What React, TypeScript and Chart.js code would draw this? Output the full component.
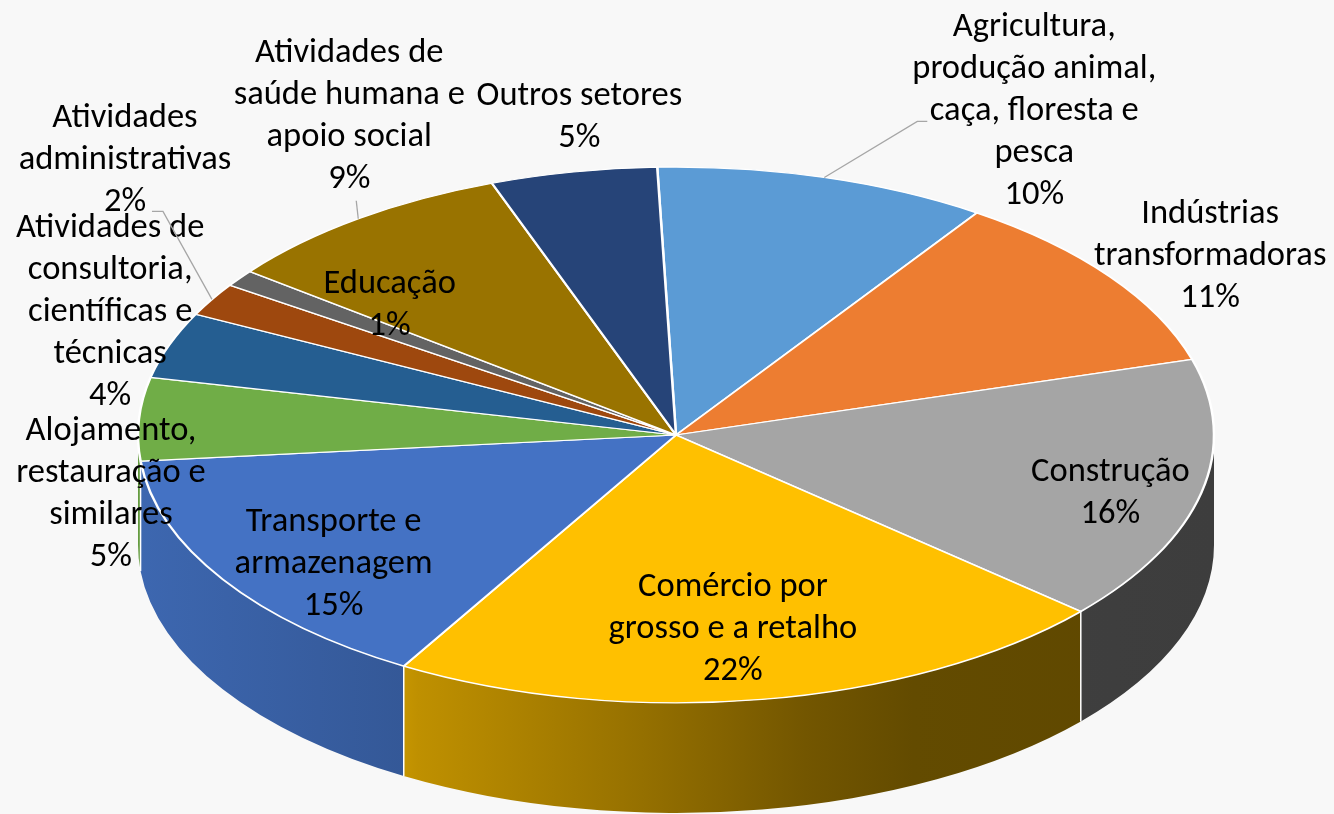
import React, { useEffect, useRef } from "react";
import { Chart, registerables } from "chart.js";

Chart.register(...registerables);

// ---- data ----
const categories: string[][] = [
  ["Agricultura,", "produção animal,", "caça, floresta e", "pesca"],
  ["Indústrias", "transformadoras"],
  ["Construção"],
  ["Comércio por", "grosso e a retalho"],
  ["Transporte e", "armazenagem"],
  ["Alojamento,", "restauração e", "similares"],
  ["Atividades de", "consultoria,", "científicas e", "técnicas"],
  ["Atividades", "administrativas"],
  ["Educação"],
  ["Atividades de", "saúde humana e", "apoio social"],
  ["Outros setores"],
];
const shares: number[] = [10, 11, 16, 22, 15, 5, 4, 2, 1, 9, 5];
const sliceColors: string[] = [
  "#5B9BD5", "#ED7D31", "#A5A5A5", "#FFC000", "#4472C4", "#70AD47",
  "#255E91", "#9E480E", "#636363", "#997300", "#264478",
];

// ---- layout / style (not data) ----
const TILT = 0.498; // vertical squash of the pie top
const DEPTH = 110; // thickness of the 3D wall
const FONT = '34.5px Carlito, Calibri, Lato, "Noto Sans", sans-serif';
const LINE_H = 42;
// label placement: anchor on slice mid-angle at radius factor r, then offset
const labelPlacement: { r: number; dx: number; dy: number; leader?: number[][] }[] = [
  { r: 1, dx: 210, dy: -66, leader: [[-117, 10], [-107, 10]] },
  { r: 1, dx: 100, dy: -20 },
  { r: 0.84, dx: -7, dy: 10 },
  { r: 0.72, dx: -5, dy: 4 },
  { r: 0.74, dx: -7, dy: 23 },
  { r: 1, dx: -28, dy: 75 },
  { r: 1, dx: -59, dy: -33 },
  { r: 1, dx: -87, dy: -139, leader: [[38, 51], [27, 51]] },
  { r: 1, dx: 150, dy: 27 },
  { r: 1, dx: -9, dy: -102, leader: [[7, 84]] },
  { r: 1, dx: 6, dy: -55 },
];
// brightness of side wall, left -> right across the pie
const wallShade: [number, number][] = [
  [0, 0.9], [0.25, 0.77], [0.26, 0.75], [0.45, 0.6], [0.62, 0.45], [0.72, 0.39], [1, 0.37],
];

function shade(hex: string, f: number): string {
  const n = parseInt(hex.slice(1), 16);
  const r = Math.round(((n >> 16) & 255) * f);
  const g = Math.round(((n >> 8) & 255) * f);
  const b = Math.round((n & 255) * f);
  return `rgb(${r},${g},${b})`;
}

const pie3d = {
  id: "pie3d",
  beforeDraw(chart: any) {
    const ctx = chart.ctx;
    ctx.save();
    ctx.fillStyle = "#f8f8f8";
    ctx.fillRect(0, 0, chart.width, chart.height);
    ctx.restore();
  },
  beforeDatasetsDraw(chart: any) {
    const ctx = chart.ctx;
    const arcs = chart.getDatasetMeta(0).data;
    if (!arcs.length) return;
    const cx = arcs[0].x;
    const cy = arcs[0].y;
    const R = arcs[0].outerRadius;
    const ry = R * TILT;
    const norm = (t: number) => {
      let v = t;
      while (v < -Math.PI) v += 2 * Math.PI;
      while (v > Math.PI) v -= 2 * Math.PI;
      return v;
    };
    // side walls (front half: angles 0..PI)
    arcs.forEach((arc: any, i: number) => {
      let s = arc.startAngle;
      let e = arc.endAngle;
      const ns = norm(s);
      e = ns + (e - s);
      s = ns;
      const a = Math.max(s, 0);
      const b = Math.min(e, Math.PI);
      if (b <= a) return;
      const grad = ctx.createLinearGradient(cx - R, 0, cx + R, 0);
      wallShade.forEach(([u, f]) => grad.addColorStop(u, shade(sliceColors[i], f)));
      ctx.save();
      ctx.beginPath();
      ctx.ellipse(cx, cy, R, ry, 0, a, b, false);
      ctx.lineTo(cx + R * Math.cos(b), cy + ry * Math.sin(b) + DEPTH);
      ctx.ellipse(cx, cy + DEPTH, R, ry, 0, b, a, true);
      ctx.closePath();
      ctx.fillStyle = grad;
      ctx.fill();
      ctx.strokeStyle = "#ffffff";
      ctx.lineWidth = 1.5;
      ctx.beginPath();
      if (a > 0) {
        ctx.moveTo(cx + R * Math.cos(a), cy + ry * Math.sin(a));
        ctx.lineTo(cx + R * Math.cos(a), cy + ry * Math.sin(a) + DEPTH);
      }
      ctx.stroke();
      ctx.restore();
    });
    // squash the top face
    ctx.save();
    ctx.translate(cx, cy);
    ctx.scale(1, TILT);
    ctx.translate(-cx, -cy);
  },
  afterDatasetsDraw(chart: any) {
    chart.ctx.restore();
  },
  afterDraw(chart: any) {
    const ctx = chart.ctx;
    const arcs = chart.getDatasetMeta(0).data;
    if (!arcs.length) return;
    const total = shares.reduce((s, v) => s + v, 0);
    ctx.save();
    ctx.font = FONT;
    ctx.fillStyle = "#000000";
    ctx.textAlign = "center";
    ctx.textBaseline = "middle";
    arcs.forEach((arc: any, i: number) => {
      const p = labelPlacement[i];
      const mid = (arc.startAngle + arc.endAngle) / 2;
      const R = arc.outerRadius;
      const ex = arc.x + R * Math.cos(mid);
      const ey = arc.y + R * TILT * Math.sin(mid);
      const lx = arc.x + p.r * R * Math.cos(mid) + p.dx;
      const ly = arc.y + p.r * R * TILT * Math.sin(mid) + p.dy;
      const lines = [...categories[i], `${Math.round((shares[i] / total) * 100)}%`];
      if (p.leader) {
        ctx.save();
        ctx.strokeStyle = "#a6a6a6";
        ctx.lineWidth = 1.3;
        ctx.beginPath();
        ctx.moveTo(ex, ey);
        p.leader.forEach(([dx, dy]) => ctx.lineTo(lx + dx, ly + dy));
        ctx.stroke();
        ctx.restore();
      }
      lines.forEach((t, k) => {
        ctx.fillText(t, lx, ly + (k - (lines.length - 1) / 2) * LINE_H);
      });
    });
    ctx.restore();
  },
};

export default function App() {
  const ref = useRef<HTMLCanvasElement | null>(null);
  useEffect(() => {
    document.body.style.margin = "0";
    const canvas = ref.current;
    if (!canvas) return;
    const chart = new Chart(canvas, {
      type: "pie",
      data: {
        labels: categories.map((c) => c.join(" ")),
        datasets: [
          {
            data: shares,
            backgroundColor: sliceColors,
            borderColor: "#ffffff",
            borderWidth: 2.5,
            radius: 538,
            clip: false,
          } as any,
        ],
      },
      options: {
        responsive: false,
        devicePixelRatio: 1,
        animation: false,
        events: [],
        rotation: -2,
        layout: { padding: { left: 18, top: 56, right: 0, bottom: 0 } },
        plugins: { legend: { display: false }, tooltip: { enabled: false } },
      } as any,
      plugins: [pie3d],
    });
    return () => chart.destroy();
  }, []);
  return <canvas ref={ref} width={1334} height={814} style={{ display: "block" }} />;
}
